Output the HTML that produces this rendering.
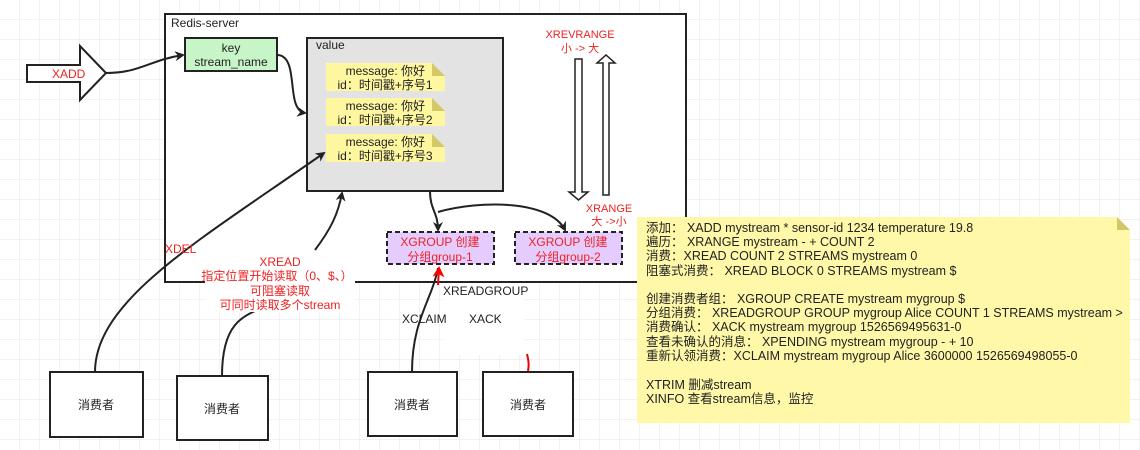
<!DOCTYPE html>
<html><head><meta charset="utf-8"><style>
body{margin:0;background:#fff}
svg{display:block;font-family:"Liberation Sans","Noto Sans CJK SC",sans-serif}
</style></head><body>
<svg width="1140" height="450" xmlns="http://www.w3.org/2000/svg">
<defs>
<pattern id="g" width="20" height="20" patternUnits="userSpaceOnUse"><path d="M20 0V20H0" fill="none" stroke="#e6e6e6" stroke-width="1"/></pattern>
<marker id="a" markerWidth="10" markerHeight="10" refX="8" refY="5" orient="auto" markerUnits="userSpaceOnUse"><path d="M0,0 L10,5 L0,10 L3,5z" fill="#222"/></marker>
<marker id="r" markerWidth="12" markerHeight="12" refX="9" refY="6" orient="auto" markerUnits="userSpaceOnUse"><path d="M0,0 L11,6 L0,12 L3,6z" fill="#f00"/></marker>
</defs>
<rect width="1140" height="450" fill="url(#g)"/>
<rect x="165" y="14" width="521" height="268" fill="#fff" stroke="#222" stroke-width="2"/>
<text x="171" y="27" font-size="12" fill="#222">Redis-server</text>
<path d="M27,65 H80 V46 L106,73 L80,100 V82 H27z" fill="#fff" stroke="#222" stroke-width="2"/>
<text x="52" y="78" font-size="12" fill="#e22">XADD</text>
<path d="M106,73 C140,73 150,60 183,55" fill="none" stroke="#222" stroke-width="2" marker-end="url(#a)"/>
<rect x="185" y="38" width="92" height="33" fill="#c8f5c8" stroke="#222" stroke-width="2"/>
<text x="231" y="52" font-size="12" text-anchor="middle" fill="#222">key</text>
<text x="231" y="66" font-size="12" text-anchor="middle" fill="#222">stream_name</text>
<path d="M278,55 C300,57 285,110 305,113" fill="none" stroke="#222" stroke-width="2" marker-end="url(#a)"/>
<rect x="307" y="38" width="196" height="153" fill="#e3e3e3" stroke="#222" stroke-width="2"/>
<text x="316" y="49" font-size="12" fill="#222">value</text>
<g font-size="12" fill="#222">
<path d="M326,63 H432 L445,76 V91 H326z" fill="#fff6a0"/><path d="M432,63 L445,76 H432z" fill="#d4c76a"/>
<text x="425" y="75" text-anchor="end">message: 你好</text><text x="385" y="89" text-anchor="middle">id：时间戳+序号1</text>
<path d="M326,98 H432 L445,111 V126 H326z" fill="#fff6a0"/><path d="M432,98 L445,111 H432z" fill="#d4c76a"/>
<text x="425" y="110" text-anchor="end">message: 你好</text><text x="385" y="124" text-anchor="middle">id：时间戳+序号2</text>
<path d="M326,134 H432 L445,147 V162 H326z" fill="#fff6a0"/><path d="M432,134 L445,147 H432z" fill="#d4c76a"/>
<text x="425" y="146" text-anchor="end">message: 你好</text><text x="385" y="160" text-anchor="middle">id：时间戳+序号3</text>
</g>
<path d="M575,59 H582 V192 H588 L578.5,200 L569,192 H575z" fill="#fff" stroke="#222" stroke-width="1.5"/>
<path d="M603,195 H609 V63 H615 L606,55 L597,63 H603z" fill="#fff" stroke="#222" stroke-width="1.5"/>
<g font-size="11" fill="#e22" text-anchor="middle">
<text x="580" y="38">XREVRANGE</text><text x="580" y="52">小 -&gt; 大</text>
<text x="609" y="212">XRANGE</text><text x="609" y="225">大 -&gt;小</text>
</g>
<path d="M430,191 C430,210 438,212 438,230" fill="none" stroke="#222" stroke-width="2" marker-end="url(#a)"/>
<path d="M438,212 C480,200 550,200 565,230" fill="none" stroke="#222" stroke-width="2" marker-end="url(#a)"/>
<rect x="387" y="232" width="107" height="32" fill="#e5ccff" stroke="#222" stroke-width="2" stroke-dasharray="5,3"/>
<rect x="515" y="232" width="107" height="32" fill="#e5ccff" stroke="#222" stroke-width="2" stroke-dasharray="5,3"/>
<g font-size="12" fill="#e22" text-anchor="middle">
<text x="440" y="246">XGROUP 创建</text><text x="440" y="261">分组group-1</text>
<text x="568" y="246">XGROUP 创建</text><text x="568" y="261">分组group-2</text>
</g>
<g stroke="#222" stroke-width="2" fill="#fff">
<rect x="50" y="372" width="93" height="65"/>
<rect x="177" y="376" width="91" height="64"/>
<rect x="368" y="372" width="89" height="64"/>
<rect x="483" y="372" width="90" height="64"/>
</g>
<g font-size="12" fill="#222" text-anchor="middle">
<text x="96" y="409">消费者</text><text x="222" y="413">消费者</text><text x="412" y="409">消费者</text><text x="528" y="409">消费者</text>
</g>
<path d="M95,372 C95,300 200,240 324,153" fill="none" stroke="#222" stroke-width="2" marker-end="url(#a)"/>
<path d="M222,376 C222,320 245,315 270,305 M315,250 C330,230 338,215 342,193" fill="none" stroke="#222" stroke-width="2" marker-end="url(#a)"/>
<rect x="205" y="254" width="150" height="58" fill="#fff"/>
<text x="165" y="253" font-size="12" fill="#e22">XDEL</text>
<g font-size="12" fill="#e22" text-anchor="middle">
<text x="280" y="266">XREAD</text><text x="277" y="280">指定位置开始读取（0、$、）</text><text x="280" y="295">可阻塞读取</text><text x="280" y="309">可同时读取多个stream</text>
</g>
<rect x="443" y="283" width="82" height="72" fill="#fff"/>
<path d="M412,372 C412,320 432,300 438,268" fill="none" stroke="#222" stroke-width="2"/>
<path d="M438,285 L439,268" stroke="#f00" stroke-width="2" marker-end="url(#r)"/>
<path d="M527,354 C529,362 529,366 528,371" fill="none" stroke="#e00" stroke-width="2"/>
<g font-size="12" fill="#222">
<text x="443" y="295">XREADGROUP</text><text x="402" y="323">XCLAIM</text><text x="469" y="323">XACK</text>
</g>
<path d="M637,217 H1117 L1130,230 V423 H637z" fill="#fff8a8"/>
<path d="M1117,217 L1130,230 H1117z" fill="#d4c76a"/>
<g font-size="12.5" fill="#222">
<text x="646" y="232">添加： XADD mystream * sensor-id 1234 temperature 19.8</text>
<text x="646" y="246">遍历： XRANGE mystream - + COUNT 2</text>
<text x="646" y="260">消费：XREAD COUNT 2 STREAMS mystream 0</text>
<text x="646" y="275">阻塞式消费： XREAD BLOCK 0 STREAMS mystream $</text>
<text x="646" y="303">创建消费者组：  XGROUP CREATE mystream mygroup $</text>
<text x="646" y="317">分组消费： XREADGROUP GROUP mygroup Alice COUNT 1 STREAMS mystream &gt;</text>
<text x="646" y="331">消费确认： XACK mystream mygroup 1526569495631-0</text>
<text x="646" y="346">查看未确认的消息： XPENDING mystream mygroup - + 10</text>
<text x="646" y="360">重新认领消费：XCLAIM mystream mygroup Alice 3600000 1526569498055-0</text>
<text x="646" y="389">XTRIM 删减stream</text>
<text x="646" y="403">XINFO 查看stream信息，监控</text>
</g>
</svg>
</body></html>
